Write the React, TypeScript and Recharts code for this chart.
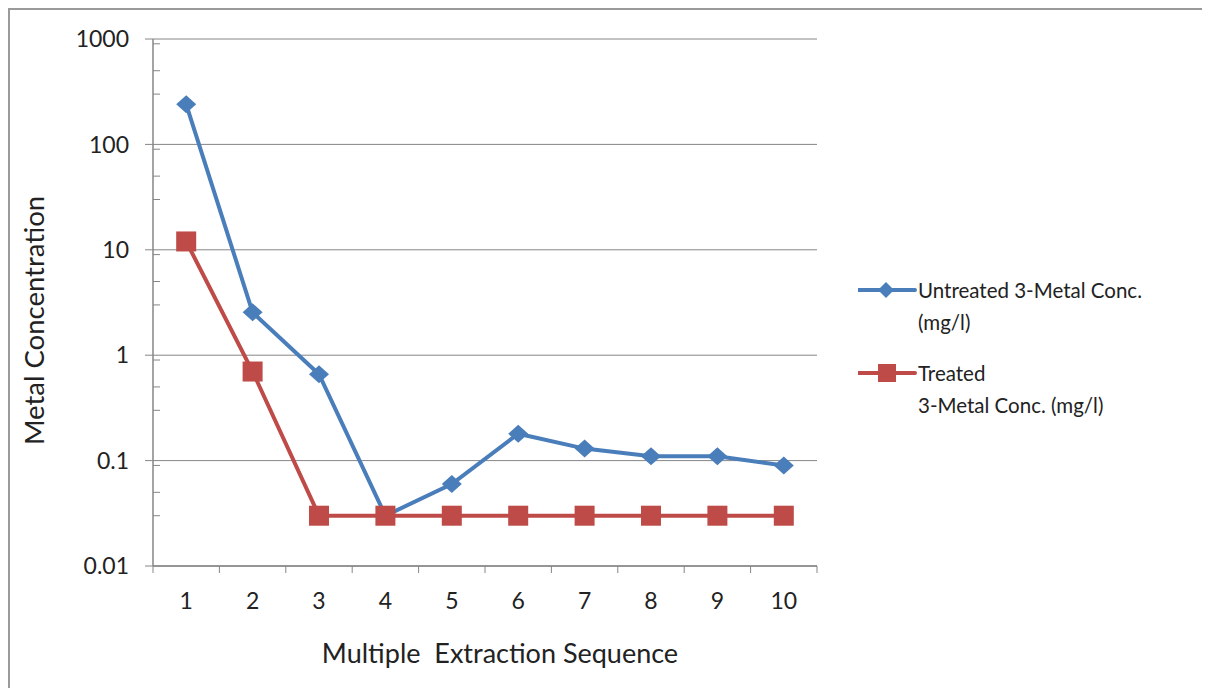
import {
  CartesianGrid,
  Line,
  LineChart,
  XAxis,
  YAxis,
} from "recharts";

// extraction step number
const steps = [1, 2, 3, 4, 5, 6, 7, 8, 9, 10];
// mg/l
const untreated = [240, 2.55, 0.66, 0.03, 0.06, 0.18, 0.13, 0.11, 0.11, 0.09];
const treated = [12, 0.7, 0.03, 0.03, 0.03, 0.03, 0.03, 0.03, 0.03, 0.03];

const yTicks = [0.01, 0.1, 1, 10, 100, 1000];
const yMinorTicks = [
  0.02, 0.03, 0.04, 0.05, 0.06, 0.07, 0.08, 0.09,
  0.2, 0.3, 0.4, 0.5, 0.6, 0.7, 0.8, 0.9,
  2, 3, 4, 5, 6, 7, 8, 9,
  20, 30, 40, 50, 60, 70, 80, 90,
  200, 300, 400, 500, 600, 700, 800, 900,
];
const xBoundaries = [0.5, 1.5, 2.5, 3.5, 4.5, 5.5, 6.5, 7.5, 8.5, 9.5, 10.5];

const data = steps.map((s, i) => ({
  step: s,
  untreated: untreated[i],
  treated: treated[i],
}));

const BLUE = "#4a7ebb";
const RED = "#be4b48";
const AXIS = "#868686";
const FONT = "Lato, 'Open Sans', sans-serif";

const Diamond = ({ cx, cy }: any) => {
  if (cx == null || cy == null) return <g />;
  return (
    <path
      d={`M${cx},${cy - 9} L${cx + 10},${cy} L${cx},${cy + 9} L${cx - 10},${cy} Z`}
      fill={BLUE}
    />
  );
};

const Square = ({ cx, cy }: any) => {
  if (cx == null || cy == null) return <g />;
  return <rect x={cx - 10} y={cy - 10} width={20} height={20} fill={RED} />;
};

// axis titles sit a bit off-centre in the original
const XTitle = ({ viewBox }: any) => (
  <text
    x={viewBox.x + viewBox.width / 2 + 15}
    y={642}
    textAnchor="middle"
    dominantBaseline="central"
    fill="#222"
    fontSize={27}
    fontFamily={FONT}
  >
    {"Multiple\u00a0 Extraction Sequence"}
  </text>
);

const YTitle = ({ viewBox }: any) => {
  const cx = 23;
  const cy = viewBox.y + viewBox.height / 2 + 18;
  return (
    <text
      x={cx}
      y={cy}
      transform={`rotate(-90, ${cx}, ${cy})`}
      textAnchor="middle"
      dominantBaseline="central"
      fill="#222"
      fontSize={27.5}
      fontFamily={FONT}
    >
      Metal Concentration
    </text>
  );
};

const LegendBox = () => (
  <div
    style={{
      position: "absolute",
      left: 848,
      top: 264,
      width: 340,
      fontFamily: FONT,
      fontSize: 20.5,
      color: "#222",
      lineHeight: "32px",
    }}
  >
    <div style={{ display: "flex", alignItems: "flex-start" }}>
      <svg width={60} height={32} style={{ flexShrink: 0 }}>
        <line x1={0} y1={16} x2={57} y2={16} stroke={BLUE} strokeWidth={4} strokeLinecap="round" />
        <path d="M28,8 L36,16 L28,24 L20,16 Z" fill={BLUE} />
      </svg>
      <div>
        Untreated 3-Metal Conc.
        <br />
        (mg/l)
      </div>
    </div>
    <div style={{ display: "flex", alignItems: "flex-start", marginTop: 19 }}>
      <svg width={60} height={32} style={{ flexShrink: 0 }}>
        <line x1={0} y1={16} x2={57} y2={16} stroke={RED} strokeWidth={4} strokeLinecap="round" />
        <rect x={20} y={7} width={18} height={18} fill={RED} />
      </svg>
      <div>
        Treated
        <br />
        3-Metal Conc. (mg/l)
      </div>
    </div>
  </div>
);

export default function App() {
  return (
    <div
      style={{
        width: 1200,
        height: 678,
        borderLeft: "2px solid #9a9a9a",
        borderTop: "2px solid #9a9a9a",
        background: "#fff",
        position: "relative",
        overflow: "hidden",
      }}
    >
      <LineChart
        width={1200}
        height={678}
        data={data}
        margin={{ top: 29, right: 393, bottom: 90, left: 83 }}
      >
        <CartesianGrid vertical={false} stroke={AXIS} yAxisId="main" xAxisId="main" />
        <XAxis
          xAxisId="bounds"
          type="number"
          dataKey="step"
          domain={[0.5, 10.5]}
          ticks={xBoundaries}
          height={1}
          tick={() => <g />}
          tickSize={7}
          stroke={AXIS}
          axisLine={{ stroke: AXIS, strokeWidth: 1.5 }}
        />
        <XAxis
          xAxisId="main"
          type="number"
          dataKey="step"
          domain={[0.5, 10.5]}
          ticks={steps}
          height={31}
          axisLine={false}
          tickLine={false}
          tickSize={0}
          tickMargin={26}
          tick={{ fill: "#222", fontSize: 23, fontFamily: FONT }}
          label={{ content: XTitle }}
        />
        <YAxis
          yAxisId="main"
          scale="log"
          domain={[0.01, 1000]}
          ticks={yTicks}
          allowDataOverflow
          width={60}
          tickSize={8}
          tickMargin={16}
          stroke={AXIS}
          axisLine={{ stroke: AXIS, strokeWidth: 1.5 }}
          tick={{ fill: "#222", fontSize: 23, fontFamily: FONT }}
          tickFormatter={(v: number) => String(v)}
          label={{ content: YTitle }}
        />
        <YAxis
          yAxisId="minor"
          scale="log"
          domain={[0.01, 1000]}
          ticks={yMinorTicks}
          allowDataOverflow
          mirror
          width={1}
          axisLine={false}
          tickSize={7}
          stroke={AXIS}
          tick={() => <g />}
        />
        <Line
          xAxisId="main"
          yAxisId="main"
          dataKey="untreated"
          name="Untreated 3-Metal Conc. (mg/l)"
          stroke={BLUE}
          strokeWidth={4}
          dot={<Diamond />}
          activeDot={false}
          isAnimationActive={false}
        />
        <Line
          xAxisId="main"
          yAxisId="main"
          dataKey="treated"
          name="Treated 3-Metal Conc. (mg/l)"
          stroke={RED}
          strokeWidth={4}
          dot={<Square />}
          activeDot={false}
          isAnimationActive={false}
        />
      </LineChart>
      <LegendBox />
    </div>
  );
}
